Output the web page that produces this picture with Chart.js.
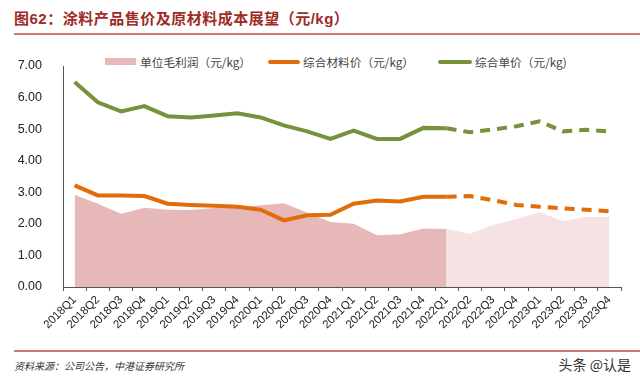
<!DOCTYPE html>
<html>
<head>
<meta charset="utf-8">
<script src="https://cdn.jsdelivr.net/npm/chart.js@4.4.1/dist/chart.umd.min.js"></script>
<style>
  body { margin: 0; width: 640px; height: 384px; background: #fff; position: relative; overflow: hidden; font-family: "Liberation Sans", "Noto Sans CJK SC", sans-serif; }
  .title { position: absolute; left: 14px; top: 7px; font: bold 15px "Liberation Sans", "Noto Sans CJK SC", sans-serif; color: #9e2b25; letter-spacing: 0.5px; }
  .rule { position: absolute; left: 14px; right: 0; height: 2px; background: #d07a6e; }
  .legend { position: absolute; top: 54px; left: 0; width: 640px; height: 16px; font: 11.7px "Noto Sans CJK SC", sans-serif; color: #444; }
  .legend span { position: absolute; top: 0; line-height: 16px; }
  .legend i { position: absolute; display: block; }
  #wrap { position: absolute; left: 0; top: 41px; width: 640px; height: 305px; }
  .source { position: absolute; left: 14px; top: 358px; font: italic 10px "Noto Sans CJK SC", sans-serif; color: #333; }
  .mark { position: absolute; right: 9px; top: 354px; font: 14px "Noto Sans CJK SC", sans-serif; color: #333; }
</style>
</head>
<body>
<div class="title">图62：涂料产品售价及原材料成本展望（元/kg）</div>
<div class="rule" style="top:33px"></div>
<div class="legend">
  <i style="left:105px;top:4px;width:31px;height:7px;background:#e6b9b8"></i>
  <span style="left:140px">单位毛利润（元/kg）</span>
  <i style="left:268px;top:6px;width:32px;height:4px;border-radius:2px;background:#e36c0a"></i>
  <span style="left:303px">综合材料价（元/kg）</span>
  <i style="left:438px;top:6px;width:34px;height:4px;border-radius:2px;background:#76923c"></i>
  <span style="left:475px">综合单价（元/kg)</span>
</div>
<div id="wrap"><canvas id="chart"></canvas></div>
<div class="rule" style="top:350px;height:2px"></div>
<div class="source">资料来源：公司公告，中港证券研究所</div>
<div class="mark">头条 @认是</div>
<script>
const quarters = ['2018Q1','2018Q2','2018Q3','2018Q4','2019Q1','2019Q2','2019Q3','2019Q4',
  '2020Q1','2020Q2','2020Q3','2020Q4','2021Q1','2021Q2','2021Q3','2021Q4',
  '2022Q1','2022Q2','2022Q3','2022Q4','2023Q1','2023Q2','2023Q3','2023Q4'];
// 单位毛利润
const unitProfit = [2.92, 2.64, 2.32, 2.51, 2.45, 2.44, 2.50, 2.52, 2.59, 2.65, 2.36, 2.06,
  2.00, 1.64, 1.67, 1.85, 1.84, 1.69, 1.96, 2.15, 2.37, 2.09, 2.22, 2.22];
// 综合材料价
const materialCost = [3.22, 2.90, 2.90, 2.88, 2.64, 2.60, 2.57, 2.54, 2.45, 2.11, 2.27, 2.29,
  2.64, 2.74, 2.71, 2.86, 2.86, 2.88, 2.75, 2.60, 2.54, 2.49, 2.45, 2.40];
// 综合单价
const unitPrice = [6.49, 5.85, 5.56, 5.73, 5.41, 5.37, 5.43, 5.50, 5.37, 5.12, 4.93, 4.69,
  4.95, 4.69, 4.69, 5.04, 5.03, 4.90, 4.99, 5.09, 5.25, 4.93, 4.98, 4.93];
const forecastStart = 16; // 2022Q1 onwards is outlook

const profitActual = unitProfit.map((v, i) => i <= forecastStart ? v : null);
const profitForecast = unitProfit.map((v, i) => i >= forecastStart ? v : null);
const dashAfter = ctx => ctx.p0DataIndex >= forecastStart ? [10, 7] : undefined;

new Chart(document.getElementById('chart'), {
  type: 'line',
  data: {
    labels: quarters,
    datasets: [
      { label: '综合单价（元/kg)', data: unitPrice, borderColor: '#76923c', borderWidth: 4,
        pointRadius: 0, tension: 0, segment: { borderDash: dashAfter } },
      { label: '综合材料价（元/kg）', data: materialCost, borderColor: '#e36c0a', borderWidth: 4,
        pointRadius: 0, tension: 0, segment: { borderDash: dashAfter } },
      { label: '单位毛利润（元/kg）', data: profitActual, backgroundColor: '#e6b9b8', borderWidth: 0,
        pointRadius: 0, fill: 'origin', spanGaps: false },
      { label: '单位毛利润预测', data: profitForecast, backgroundColor: '#f6e2e2', borderWidth: 0,
        pointRadius: 0, fill: 'origin', spanGaps: false }
    ]
  },
  options: {
    responsive: true,
    maintainAspectRatio: false,
    animation: false,
    layout: { padding: { top: 25, right: 19, left: 0, bottom: 0 } },
    plugins: { legend: { display: false }, tooltip: { enabled: false } },
    scales: {
      x: {
        offset: true,
        grid: { display: true, drawOnChartArea: false, drawTicks: true, tickLength: 4, offset: true, color: '#555' },
        border: { display: true, color: '#555', width: 1 },
        ticks: { autoSkip: false, minRotation: 45, maxRotation: 45, padding: 2, color: '#222',
          font: { family: 'Liberation Sans', size: 11.5 } },
        afterFit: s => { s.height = 59; }
      },
      y: {
        min: 0, max: 7,
        grid: { display: false },
        border: { display: true, color: '#555', width: 1 },
        ticks: { stepSize: 1, padding: 13, color: '#222', callback: v => v.toFixed(2),
          font: { family: 'Liberation Sans', size: 12.5 } },
        afterFit: s => { s.width = 63; }
      }
    }
  }
});
</script>
</body>
</html>
